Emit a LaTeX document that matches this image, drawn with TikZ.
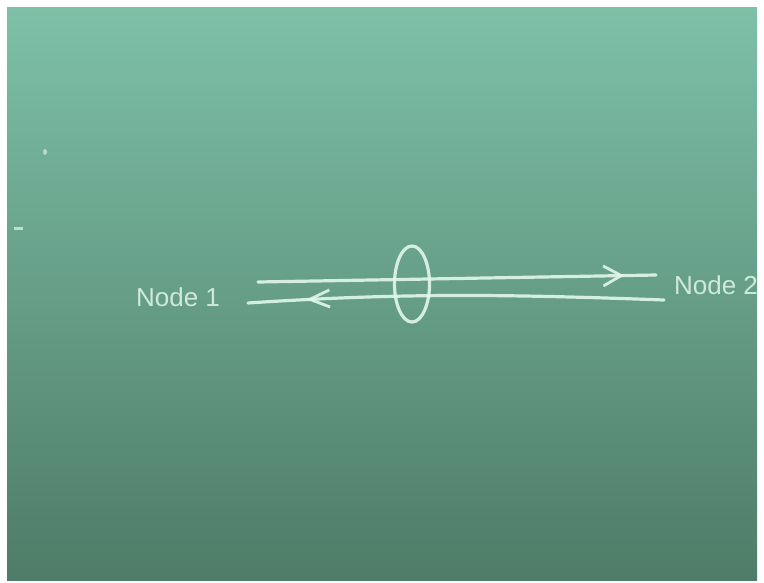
\documentclass[tikz,border=0pt]{standalone}
\usepackage{fontspec}
\setsansfont{Liberation Sans}
\usetikzlibrary{arrows.meta,decorations.markings,shapes.geometric}
\definecolor{boardtop}{RGB}{126,192,168}
\definecolor{boardbot}{RGB}{78,124,104}
\definecolor{chalk}{RGB}{225,247,235}
\tikzset{
  chalkline/.style={draw=chalk, line width=3.2pt, line cap=round, opacity=0.9},
  chalktext/.style={text=chalk, font=\sffamily\fontsize{26}{26}\selectfont, inner sep=0pt, opacity=0.85},
  barbat/.style 2 args={postaction={decorate}, decoration={markings, mark=at position #1 with {\arrow[chalk, line width=2.8pt]{#2}}}}
}
\begin{document}
\begin{tikzpicture}[x=1pt,y=-1pt]
\useasboundingbox (0,0) rectangle (764,582);
\fill[white] (0,0) rectangle (764,582);
\shade[top color=boardtop, bottom color=boardbot] (7,7) rectangle (757,580);
% chalk specks
\fill[chalk, opacity=0.6] (45,152) ellipse (2 and 3);
\fill[chalk, opacity=0.7] (14,226.5) rectangle (23,229.5);
% labels
\node[chalktext] (n1) at (178,297) {Node 1};
\node[chalktext] (n2) at (716,285) {Node 2};
% line endpoints
\coordinate (t1) at (258,282);
\coordinate (t2) at (656,275);
\coordinate (b1) at (248,303);
\coordinate (b2) at (664,300);
% lines
\draw[chalkline, barbat={0.92}{Straight Barb[length=18pt,width=20pt]}] (t1) -- (t2);
\draw[chalkline, barbat={0.2}{Straight Barb[length=20pt,width=17pt,reversed]}] (b1) .. controls (400,293) and (500,294) .. (b2);
% loop
\node[draw=chalk, line width=3.2pt, ellipse, minimum width=35pt, minimum height=76pt, opacity=0.9, inner sep=0pt] (loop) at (412,284) {};
\end{tikzpicture}
\end{document}
